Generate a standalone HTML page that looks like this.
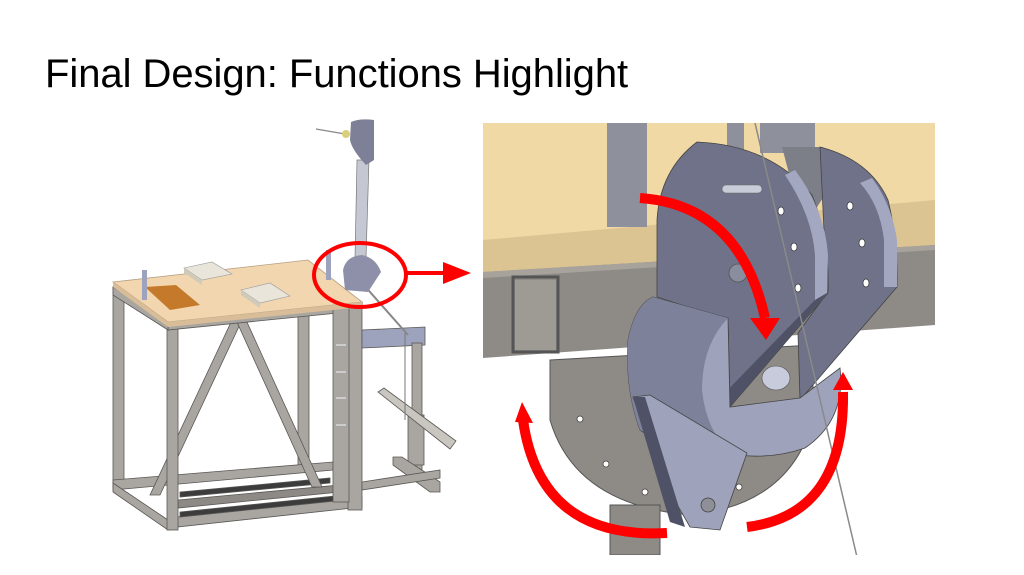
<!DOCTYPE html>
<html><head><meta charset="utf-8"><style>
html,body{margin:0;padding:0;background:#fff;width:1024px;height:575px;overflow:hidden}
.t{position:absolute;left:45px;top:52px;font-family:"Liberation Sans",Arial,sans-serif;font-size:40px;color:#000;white-space:nowrap;letter-spacing:-0.05px}
svg{position:absolute;left:0;top:0}
</style></head><body>
<svg width="1024" height="575" viewBox="0 0 1024 575">
<g stroke="#5a5856" stroke-width="0.8" fill="#a9a6a1">
  <rect x="113" y="287" width="11" height="200"/>
  <rect x="298" y="300" width="11" height="170"/>
  <polygon points="113,480 333,462 333,470 113,490"/>
  <polygon points="113,483 168,520 168,530 113,492"/>
  <polygon points="168,518 362,497 362,507 168,528"/>
  <polygon points="178,500 340,485 340,492 178,508" fill="#8d8a86"/>
  <polygon points="180,512 345,495 345,500 180,517" fill="#3c3c3c"/>
  <polygon points="180,492 330,478 330,483 180,497" fill="#3c3c3c"/>
  <polygon points="232,320 242,320 160,495 150,495"/>
  <polygon points="236,320 246,320 322,487 312,487"/>
  <rect x="167" y="322" width="11" height="208"/>
  <rect x="348" y="302" width="14" height="208"/>
  <polygon points="168,322 348,306 348,312 168,330"/>
  <polygon points="113,287 168,322 168,330 113,295"/>
  <rect x="333" y="307" width="16" height="195"/>
  <polygon points="362,330 425,327 425,345 362,348" fill="#9ea3bd"/>
  <rect x="412" y="343" width="10" height="127"/>
  <rect x="408" y="415" width="16" height="50"/>
  <polygon points="393,457 402,457 440,482 440,492 430,492 393,465"/>
  <polygon points="362,482 440,470 440,478 362,490"/>
  <polygon points="378,392 384,388 456,441 450,449" fill="#c9c6c0"/>
</g>
<line x1="405" y1="330" x2="405" y2="420" stroke="#777" stroke-width="1"/>
<line x1="355" y1="275" x2="408" y2="335" stroke="#888" stroke-width="2"/>
<g stroke="#ccc" stroke-width="2"><line x1="336" y1="345" x2="346" y2="345"/><line x1="336" y1="372" x2="346" y2="372"/><line x1="336" y1="398" x2="346" y2="398"/><line x1="336" y1="425" x2="346" y2="425"/></g>
<polygon points="113,282 308,260 362,302 168,322" fill="#f2d6b0" stroke="#b7a080" stroke-width="0.8"/>
<polygon points="113,282 168,322 168,327 113,287" fill="#d8bd98"/>
<polygon points="168,322 362,302 362,307 168,327" fill="#d8bd98"/>
<polygon points="145,287 176,285 200,305 170,310" fill="#c47a2a"/>
<polygon points="184,268 212,262 232,274 202,280" fill="#e9e5da" stroke="#999" stroke-width="0.6"/>
<polygon points="184,268 202,280 202,285 184,273" fill="#cfcab9"/>
<polygon points="241,290 270,283 290,296 260,303" fill="#e9e5da" stroke="#999" stroke-width="0.6"/>
<polygon points="241,290 260,303 260,308 241,295" fill="#cfcab9"/>
<rect x="142" y="270" width="5" height="30" fill="#9ea3bd"/>
<rect x="326" y="250" width="5" height="30" fill="#9ea3bd"/>
<polygon points="357,160 369,160 366,258 355,258" fill="#c5c7d2" stroke="#777" stroke-width="0.7"/>
<path d="M351,122 Q360,118 374,120 L374,160 L366,165 Q352,150 350,140 Z" fill="#7d8096"/>
<line x1="316" y1="129" x2="345" y2="134" stroke="#888" stroke-width="1.2"/>
<circle cx="346" cy="134" r="4" fill="#d9cf7a"/>
<path d="M343,270 Q346,256 362,255 Q376,258 381,272 L368,292 L345,290 Z" fill="#8d90a8"/>
<ellipse cx="360" cy="275" rx="46" ry="32" fill="none" stroke="#f00" stroke-width="4"/>
<line x1="406" y1="273" x2="445" y2="273" stroke="#f00" stroke-width="4"/>
<polygon points="443,262 471,273 443,284" fill="#f00"/>

<defs><clipPath id="c"><rect x="483" y="123" width="452" height="432"/></clipPath></defs>
<g clip-path="url(#c)">
  <rect x="483" y="123" width="452" height="432" fill="#fff"/>
  <polygon points="483,123 935,123 935,245 483,250" fill="#f1d9a6"/>
  <polygon points="483,240 935,200 935,250 483,275" fill="#dcc492"/>
  <polygon points="483,272 935,245 935,325 483,358" fill="#8e8a86"/>
  <polygon points="483,272 935,245 935,250 483,278" fill="#a7a29b"/>
  <rect x="513" y="277" width="45" height="75" fill="none" stroke="#555" stroke-width="3"/>
  <polygon points="515,280 556,280 556,350 515,350" fill="#9e9a94"/>
  <rect x="607" y="123" width="40" height="104" fill="#8e909c"/>
  <rect x="727" y="123" width="17" height="30" fill="#8e909c"/>
  <rect x="760" y="123" width="55" height="30" fill="#8e909c"/>
  <polygon points="782,147 823,147 835,180 815,210 792,185" fill="#7d7f88"/>
  <path d="M550,360 L813,345 L813,420 Q790,505 690,515 Q575,505 550,420 Z" fill="#8e8a85" stroke="#555" stroke-width="1"/>
  <rect x="610" y="505" width="50" height="50" fill="#8e8a85" stroke="#555" stroke-width="1"/>
  <g fill="#fff" stroke="#444" stroke-width="0.8"><circle cx="580" cy="419" r="3"/><circle cx="606" cy="464" r="3"/><circle cx="645" cy="492" r="3"/><circle cx="739" cy="487" r="3"/></g>
  <path d="M820,147 Q870,160 888,200 Q898,240 897,287 L800,400 L798,333 L827,293 Z" fill="#6f7288" stroke="#444" stroke-width="0.8"/>
  <path d="M872,178 Q892,205 897,240 L897,287 L884,287 L884,240 Q880,205 860,183 Z" fill="#a3a7c0"/>
  <path d="M657,297 L657,220 Q660,170 697,142 Q770,145 812,195 Q830,240 828,293 L730,407 L728,320 Z" fill="#6f7288" stroke="#444" stroke-width="0.8"/>
  <path d="M795,170 Q825,210 828,255 L827,293 L815,300 L815,255 Q812,215 785,175 Z" fill="#a3a7c0"/>
  <polygon points="815,300 827,293 730,407 718,400" fill="#4f5266"/>
  <g fill="#fff" stroke="#333" stroke-width="0.7"><ellipse cx="781" cy="211" rx="3" ry="4"/><ellipse cx="794" cy="247" rx="3" ry="4"/><ellipse cx="798" cy="288" rx="3" ry="4"/><ellipse cx="850" cy="206" rx="3" ry="4"/><ellipse cx="862" cy="243" rx="3" ry="4"/><ellipse cx="866" cy="283" rx="3" ry="4"/></g>
  <circle cx="738" cy="273" r="9" fill="#8a8d9e" stroke="#555" stroke-width="0.8"/>
  <rect x="722" y="185" width="40" height="8" rx="4" fill="#c8cbd8" stroke="#666" stroke-width="0.6"/>
  <path d="M653,297 L728,318 L730,407 L800,398 L840,368 Q846,420 805,448 Q765,462 720,452 Q660,445 640,430 Q625,390 628,340 Q635,305 653,297 Z" fill="#9ea2bb" stroke="#444" stroke-width="0.8"/>
  <path d="M653,297 L728,318 Q702,345 702,390 Q706,430 730,452 Q670,445 640,430 Q625,390 628,340 Q635,305 653,297 Z" fill="#7d8199"/>
  <ellipse cx="776" cy="378" rx="14" ry="12" fill="#c8cbdb" stroke="#555" stroke-width="0.6"/>
  <polygon points="633,397 650,395 747,453 720,530 690,527 667,487" fill="#9ea2bb" stroke="#444" stroke-width="0.8"/>
  <polygon points="633,397 645,397 685,527 670,522" fill="#4f5266"/>
  <circle cx="708" cy="505" r="7" fill="#8e8f98" stroke="#444" stroke-width="0.8"/>
  <line x1="755" y1="123" x2="857" y2="557" stroke="#8a8a8a" stroke-width="1.5"/>
  <g fill="none" stroke="#f00" stroke-width="10">
    <path d="M640,198 Q740,205 765,318"/>
    <path d="M667,533 Q540,540 523,420"/>
    <path d="M747,527 Q845,515 843,392"/>
  </g>
  <g fill="#f00">
    <polygon points="750,318 780,318 766,340"/>
    <polygon points="515,422 533,423 522,402"/>
    <polygon points="833,390 853,390 843,372"/>
  </g>
</g>
</svg>
<div class="t">Final Design: Functions Highlight</div>
</body></html>
